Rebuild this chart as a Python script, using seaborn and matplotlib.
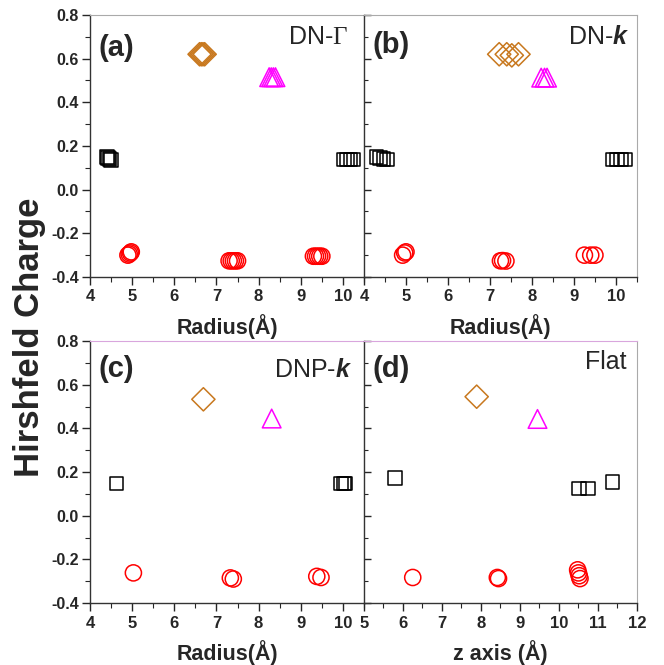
import matplotlib
matplotlib.use("Agg")
import matplotlib.pyplot as plt
import seaborn as sns
import pandas as pd
from matplotlib.ticker import MultipleLocator

# ---- data: (x, Hirshfeld charge) per atom type ----
# (a) DN-Gamma
a_sq_x = [4.40, 4.43, 4.46, 4.50, 10.02, 10.10, 10.18, 10.25]
a_sq_y = [0.150, 0.145, 0.140, 0.135, 0.137, 0.137, 0.137, 0.137]
a_ci_x = [4.90, 4.93, 4.96, 4.98, 7.30, 7.35, 7.40, 7.45, 7.50, 9.30, 9.35, 9.40, 9.45, 9.50]
a_ci_y = [-0.300, -0.295, -0.290, -0.285, -0.326, -0.326, -0.326, -0.326, -0.326,
          -0.305, -0.305, -0.305, -0.305, -0.305]
a_di_x = [6.60, 6.64, 6.68, 6.72]
a_di_y = [0.620, 0.620, 0.620, 0.620]
a_tr_x = [8.25, 8.30, 8.35, 8.40]
a_tr_y = [0.515, 0.515, 0.515, 0.515]

# (b) DN-k
b_sq_x = [4.30, 4.38, 4.46, 4.55, 9.92, 10.02, 10.12, 10.22]
b_sq_y = [0.150, 0.145, 0.140, 0.137, 0.137, 0.137, 0.137, 0.137]
b_ci_x = [4.92, 4.97, 5.00, 7.25, 7.30, 7.38, 9.25, 9.40, 9.50]
b_ci_y = [-0.300, -0.290, -0.285, -0.326, -0.325, -0.327, -0.300, -0.300, -0.300]
b_di_x = [7.22, 7.40, 7.52, 7.68]
b_di_y = [0.620, 0.620, 0.615, 0.620]
b_tr_x = [8.22, 8.30, 8.36]
b_tr_y = [0.513, 0.513, 0.513]

# (c) DNP-k
c_sq_x = [4.63, 9.96, 10.02, 10.06]
c_sq_y = [0.148, 0.148, 0.148, 0.148]
c_ci_x = [5.03, 7.33, 7.40, 9.38, 9.48]
c_ci_y = [-0.262, -0.285, -0.290, -0.278, -0.283]
c_di_x = [6.69]
c_di_y = [0.533]
c_tr_x = [8.31]
c_tr_y = [0.445]

# (d) Flat
d_sq_x = [5.80, 10.52, 10.74, 11.37]
d_sq_y = [0.172, 0.125, 0.125, 0.155]
d_ci_x = [6.25, 8.42, 8.45, 10.48, 10.50, 10.52, 10.54]
d_ci_y = [-0.283, -0.283, -0.288, -0.248, -0.262, -0.275, -0.288]
d_di_x = [7.89]
d_di_y = [0.545]
d_tr_x = [9.45]
d_tr_y = [0.443]

panel_labels = ["(a)", "(b)", "(c)", "(d)"]
panel_titles = [r"DN-$\Gamma$", r"DN-$\mathbfit{k}$", r"DNP-$\mathbfit{k}$", "Flat"]
x_labels = ["Radius(Å)", "Radius(Å)", "Radius(Å)", "z axis (Å)"]
x_limits = [(4, 10.5), (4, 10.5), (4, 10.5), (5, 12)]

panels = [
    (a_sq_x, a_sq_y, a_ci_x, a_ci_y, a_di_x, a_di_y, a_tr_x, a_tr_y),
    (b_sq_x, b_sq_y, b_ci_x, b_ci_y, b_di_x, b_di_y, b_tr_x, b_tr_y),
    (c_sq_x, c_sq_y, c_ci_x, c_ci_y, c_di_x, c_di_y, c_tr_x, c_tr_y),
    (d_sq_x, d_sq_y, d_ci_x, d_ci_y, d_di_x, d_di_y, d_tr_x, d_tr_y),
]

# marker, colour, size for each atom type
styles = [("s", "black", 95), ("o", "red", 135), ("D", "#c8781e", 140), ("^", "#ff00ff", 180)]

sns.set_style("ticks")
plt.rcParams["font.family"] = ["Liberation Sans", "DejaVu Sans"]
plt.rcParams["mathtext.fontset"] = "custom"
plt.rcParams["mathtext.rm"] = "Liberation Serif"
plt.rcParams["mathtext.bfit"] = "Liberation Sans:bold:italic"

fig = plt.figure(figsize=(6.64, 6.65), dpi=100)
boxes = [
    [0.1355, 0.5835, 0.4127, 0.394],
    [0.5482, 0.5835, 0.4110, 0.394],
    [0.1355, 0.0932, 0.4127, 0.394],
    [0.5482, 0.0932, 0.4110, 0.394],
]

title_pos = [(0.94, 0.917), (0.974, 0.917), (0.955, 0.89), (0.962, 0.918)]
label_pos = [(0.03, 0.875), (0.03, 0.885), (0.03, 0.893), (0.03, 0.893)]

for i, box in enumerate(boxes):
    ax = fig.add_axes(box)
    vals = panels[i]
    for k, (mk, col, sz) in enumerate(styles):
        df = pd.DataFrame({"x": vals[2 * k], "y": vals[2 * k + 1]})
        sns.scatterplot(data=df, x="x", y="y", ax=ax, marker=mk, s=sz,
                        facecolors="none", edgecolors=col, linewidth=1.1,
                        legend=False, zorder=3)
    ax.set_xlim(*x_limits[i])
    ax.set_ylim(-0.4, 0.8)
    ax.xaxis.set_major_locator(MultipleLocator(1))
    ax.xaxis.set_minor_locator(MultipleLocator(0.5))
    ax.yaxis.set_major_locator(MultipleLocator(0.2))
    ax.yaxis.set_minor_locator(MultipleLocator(0.1))
    ax.set_xlabel(x_labels[i], fontsize=15.5, fontweight="bold", labelpad=7)
    ax.set_ylabel("")
    ax.tick_params(axis="x", which="major", direction="out", length=6, width=1,
                   labelsize=12, pad=3)
    ax.tick_params(axis="x", which="minor", direction="out", length=3.5, width=0.8)
    for lab in ax.get_xticklabels():
        lab.set_fontweight("bold")
    if i % 2 == 0:
        ax.tick_params(axis="y", which="major", direction="out", length=6, width=1,
                       labelsize=11.5, pad=2)
        ax.tick_params(axis="y", which="minor", direction="out", length=3.5, width=0.8)
        ax.set_yticks([-0.4, -0.2, 0.0, 0.2, 0.4, 0.6, 0.8])
        ax.set_yticklabels(["-0.4", "-0.2", "0.0", "0.2", "0.4", "0.6", "0.8"],
                           fontweight="bold")
    else:
        ax.tick_params(axis="y", which="both", direction="in", labelleft=False)
        ax.tick_params(axis="y", which="major", length=5, width=1)
        ax.tick_params(axis="y", which="minor", length=3, width=0.8)
    for side in ["left", "bottom"]:
        ax.spines[side].set_color("#333333")
        ax.spines[side].set_linewidth(1.0)
    ax.spines["right"].set_color("#aaaaaa")
    ax.spines["top"].set_color("#aaaaaa" if i < 2 else "#d9a6dd")
    ax.text(label_pos[i][0], label_pos[i][1], panel_labels[i], transform=ax.transAxes,
            fontsize=21, fontweight="bold", ha="left", va="center")
    ax.text(title_pos[i][0], title_pos[i][1], panel_titles[i], transform=ax.transAxes,
            fontsize=18, ha="right", va="center")

fig.text(0.045, 0.493, "Hirshfeld Charge", rotation=90, fontsize=25,
         fontweight="bold", ha="center", va="center")

fig.savefig("out.png", dpi=100)
